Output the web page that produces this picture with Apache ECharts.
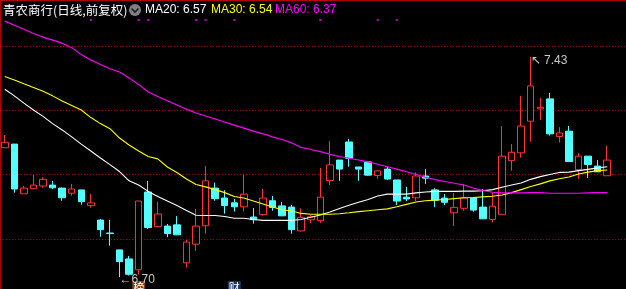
<!DOCTYPE html>
<html>
<head>
<meta charset="utf-8">
<script src="https://cdn.jsdelivr.net/npm/echarts@6/dist/echarts.min.js"></script>
<style>
html,body{margin:0;padding:0;background:#000;}
#c{width:626px;height:289px;}
</style>
</head>
<body>
<div id="c"></div>
<script>
// ---- data ----
const categories = Array.from({length: 64}, (_, i) => 'D' + (i + 1));
const openP = [7.129,7.141,6.976,6.993,7.002,7.005,6.995,6.978,6.989,6.937,
  6.889,6.846,6.790,6.760,6.724,6.982,6.867,6.869,6.873,6.747,
  6.809,6.870,6.995,6.962,6.946,6.933,6.899,6.907,6.953,6.936,
  6.932,6.853,6.890,6.887,7.020,7.088,7.148,7.065,7.082,7.037,
  7.058,7.022,6.965,6.963,7.035,6.989,6.962,6.913,6.928,6.962,
  6.932,6.891,6.908,7.086,7.112,7.217,7.258,7.291,7.166,7.184,
  7.056,7.101,7.068,7.036];
const closeP = [7.147,6.992,6.995,7.005,7.024,6.996,6.963,6.992,6.950,6.946,
  6.857,6.844,6.751,6.709,6.952,6.864,6.909,6.844,6.840,6.816,
  6.869,7.019,6.960,6.937,6.933,6.975,6.890,6.962,6.931,6.903,
  6.857,6.898,6.900,6.965,7.072,7.058,7.094,7.058,7.038,7.052,
  7.025,6.952,6.959,7.035,7.028,6.955,6.948,6.931,6.962,6.922,
  6.893,6.935,7.101,7.114,7.201,7.334,7.263,7.175,7.178,7.083,
  7.101,7.073,7.049,7.088];
const lowP = [7.129,6.980,6.976,6.993,6.996,6.992,6.953,6.970,6.940,6.930,
  6.834,6.804,6.700,6.705,6.708,6.859,6.866,6.832,6.839,6.731,
  6.787,6.844,6.953,6.910,6.917,6.917,6.877,6.903,6.920,6.902,
  6.844,6.851,6.878,6.880,7.005,7.019,7.066,7.019,7.036,7.026,
  7.022,6.939,6.952,6.952,7.009,6.932,6.939,6.869,6.920,6.917,
  6.892,6.881,6.908,7.053,7.096,7.149,7.221,7.169,7.146,7.083,
  7.026,7.029,7.049,7.036];
const highP = [7.171,7.141,7.002,7.038,7.031,7.019,6.997,7.009,6.989,6.975,
  6.892,6.889,6.790,6.770,6.952,7.019,6.950,6.876,6.902,6.823,
  6.926,7.068,7.013,6.988,6.959,7.039,6.929,6.992,6.969,6.949,
  6.939,6.928,6.906,7.062,7.151,7.088,7.158,7.065,7.082,7.055,
  7.065,7.022,6.999,7.047,7.058,6.995,6.975,6.979,7.009,6.962,
  6.992,6.980,7.201,7.141,7.301,7.430,7.294,7.311,7.197,7.201,
  7.111,7.101,7.088,7.135];
const ma20 = [7.323,7.301,7.277,7.254,7.233,7.209,7.188,7.165,7.141,7.118,
  7.095,7.073,7.050,7.019,7.005,6.984,6.967,6.952,6.937,6.921,
  6.905,6.904,6.904,6.901,6.895,6.895,6.891,6.888,6.888,6.888,
  6.888,6.891,6.898,6.906,6.916,6.927,6.938,6.948,6.957,6.969,
  6.975,6.975,6.975,6.979,6.982,6.984,6.984,6.984,6.985,6.985,
  6.986,6.990,6.998,7.005,7.012,7.024,7.033,7.040,7.047,7.048,
  7.053,7.057,7.062,7.066];
const ma30 = [7.365,7.354,7.341,7.329,7.316,7.301,7.284,7.269,7.254,7.229,
  7.209,7.192,7.161,7.138,7.118,7.100,7.092,7.065,7.047,7.025,
  7.007,6.999,6.990,6.980,6.967,6.962,6.952,6.942,6.932,6.923,
  6.919,6.911,6.908,6.908,6.908,6.910,6.913,6.917,6.920,6.923,
  6.926,6.933,6.941,6.949,6.953,6.955,6.957,6.960,6.963,6.964,
  6.966,6.968,6.972,6.980,6.990,7.000,7.009,7.019,7.026,7.032,
  7.042,7.048,7.053,7.055];
const ma60 = [7.549,7.535,7.522,7.508,7.496,7.486,7.476,7.461,7.438,7.420,
  7.405,7.391,7.380,7.360,7.339,7.314,7.299,7.285,7.271,7.257,
  7.244,7.234,7.224,7.214,7.204,7.194,7.184,7.175,7.165,7.156,
  7.145,7.130,7.123,7.116,7.107,7.100,7.094,7.088,7.082,7.074,
  7.066,7.058,7.049,7.040,7.031,7.023,7.017,7.011,7.005,6.995,
  6.987,6.981,6.979,6.979,6.979,6.980,6.980,6.978,6.978,6.978,
  6.978,6.979,6.980,6.980];
// info markers (days with an event dot on top) and badges
const eventDays = [9, 14, 15, 20, 21, 24, 33, 39, 41];
const eventLevel = 7.553;
const badgeDays = [14, 24];
const badgeText = ['榜', '财'];
const badgeLevel = 6.665;
// header texts
const titleText = '青农商行(日线,前复权)';
const maNames = ['MA20', 'MA30', 'MA60'];
const maLast = ['6.57', '6.54', '6.37'];

// ---- build ----
const COL_UP = '#FF3232', COL_DN = '#54FFFF';
const kData = openP.map((o, i) => [o, closeP[i], lowP[i], highP[i]]);
let hiIdx = 0, loIdx = 0;
highP.forEach((v, i) => { if (v > highP[hiIdx]) hiIdx = i; });
lowP.forEach((v, i) => { if (v < lowP[loIdx]) loIdx = i; });

const maColors = ['#FFFFFF', '#FFFF00', '#FF00FF'];
const maData = [ma20, ma30, ma60];

const chart = echarts.init(document.getElementById('c'), null, {renderer: 'canvas'});
const headerFont = '12px "Liberation Sans", Arial, sans-serif';
const maX = [145, 211, 275];
const graphics = [
  {type: 'rect', left: 0, top: 0, shape: {x: 0, y: 0, width: 626, height: 1}, style: {fill: '#B00000'}, z: 100},
  {type: 'rect', left: 0, top: 0, shape: {x: 0, y: 0, width: 1, height: 289}, style: {fill: '#B00000'}, z: 100},
  {type: 'text', x: 3, y: 10, style: {text: titleText, fill: '#FFFFFF', font: '12.5px "Noto Sans CJK SC", sans-serif', verticalAlign: 'middle'}, z: 100},
  {type: 'circle', shape: {cx: 135, cy: 10, r: 6}, style: {fill: '#808080'}, z: 100},
  {type: 'polyline', shape: {points: [[131.5, 8.5], [135, 12], [138.5, 8.5]]}, style: {stroke: '#202020', lineWidth: 1.6, fill: null}, z: 101}
];
maNames.forEach((n, i) => {
  graphics.push({type: 'text', x: maX[i], y: 10, style: {text: n + ': ' + maLast[i], fill: maColors[i], font: headerFont, verticalAlign: 'middle'}, z: 100});
});

const option = {
  animation: false,
  backgroundColor: '#000000',
  grid: [
    {left: 0, right: 14, top: 0, bottom: 0},
    {left: 0, right: 0, top: 46, bottom: 50}
  ],
  xAxis: [
    {type: 'category', gridIndex: 0, data: categories, boundaryGap: true, show: false},
    {type: 'value', gridIndex: 1, min: 0, max: 1, show: false}
  ],
  yAxis: [
    {type: 'value', gridIndex: 0, min: 6.6602, max: 7.6191, show: false, scale: true},
    {type: 'value', gridIndex: 1, min: 0, max: 3, interval: 1,
     axisLine: {show: false}, axisTick: {show: false}, axisLabel: {show: false},
     splitLine: {show: true, lineStyle: {color: '#A00000', width: 1, type: [1, 2]}}}
  ],
  graphic: graphics,
  series: [
    {
      type: 'candlestick', xAxisIndex: 0, yAxisIndex: 0, data: kData, barWidth: 7,
      clip: false,
      itemStyle: {color: '#000000', color0: COL_DN, borderColor: COL_UP, borderColor0: COL_DN, borderWidth: 1},
      markPoint: {
        silent: true,
        animation: false,
        data: [
          {coord: [hiIdx, highP[hiIdx]], symbol: 'circle', symbolSize: 0,
           label: {show: true, position: 'right', distance: 0, offset: [0, 4], formatter: '↖ ' + highP[hiIdx].toFixed(2), color: '#C8C8C8', fontSize: 12, fontFamily: 'Liberation Sans'}},
          {coord: [loIdx, lowP[loIdx]], symbol: 'circle', symbolSize: 0,
           label: {show: true, position: 'right', distance: 0, offset: [0, 3], formatter: '←' + lowP[loIdx].toFixed(2), color: '#C8C8C8', fontSize: 12, fontFamily: 'Liberation Sans'}}
        ].concat(badgeDays.map((d, i) => ({
          coord: [d, badgeLevel], symbol: 'rect', symbolSize: [13, 13],
          itemStyle: {color: i === 0 ? '#7A3E0A' : '#1B3B66'},
          label: {show: true, position: 'inside', formatter: badgeText[i], color: '#FFFFFF', fontSize: 11, fontFamily: 'Noto Sans CJK SC'}
        })))
      }
    },
    ...maData.map((d, i) => ({
      type: 'line', xAxisIndex: 0, yAxisIndex: 0, data: d, symbol: 'none', showSymbol: false,
      lineStyle: {color: maColors[i], width: 1.1}, itemStyle: {color: maColors[i]}, z: 3, silent: true
    })),
    {
      type: 'scatter', xAxisIndex: 0, yAxisIndex: 0, symbol: 'rect', symbolSize: 2,
      data: eventDays.map(d => [d, eventLevel]), itemStyle: {color: '#FF00FF'}, silent: true
    }
  ]
};
chart.setOption(option);
</script>
</body>
</html>
